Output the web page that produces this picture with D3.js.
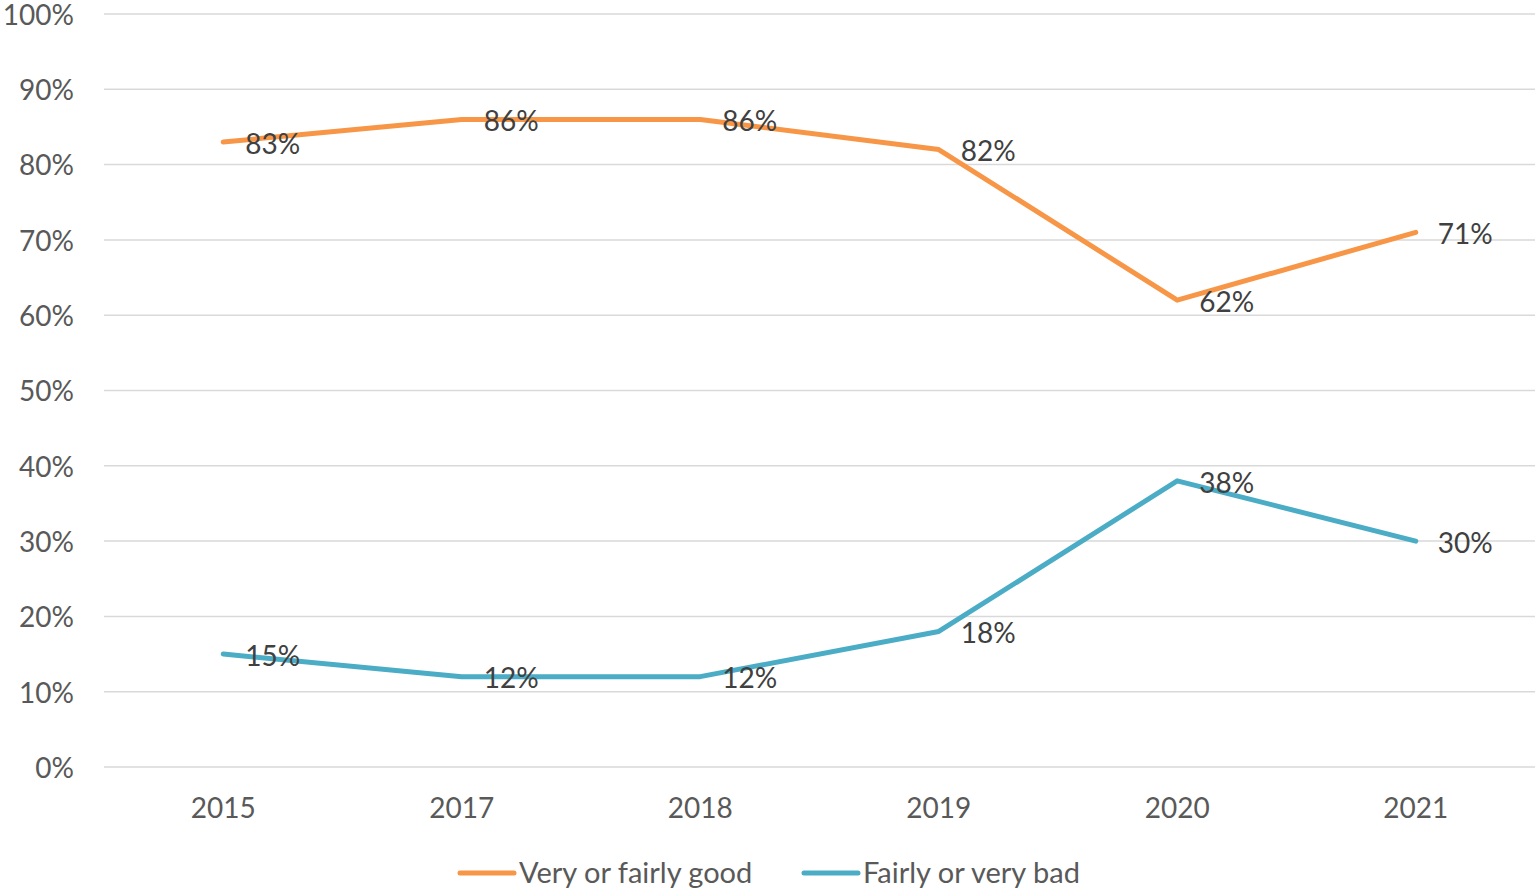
<!DOCTYPE html>
<html>
<head>
<meta charset="utf-8">
<script src="https://cdn.jsdelivr.net/npm/d3@7"></script>
<style>
  body { margin: 0; background: #fff; }
  svg text { font-family: Lato, "Open Sans", sans-serif; }
</style>
</head>
<body>
<svg id="chart"></svg>
<script>
// Data
const years = ["2015", "2017", "2018", "2019", "2020", "2021"];
const good = [83, 86, 86, 82, 62, 71];
const bad = [15, 12, 12, 18, 38, 30];
const yTicks = [0, 10, 20, 30, 40, 50, 60, 70, 80, 90, 100];
const seriesNames = ["Very or fairly good", "Fairly or very bad"];
const seriesColors = ["#F79646", "#4BACC6"];

// Dimensions
const W = 1535, H = 892;
const margin = { top: 14, right: 0, bottom: 125, left: 104 };

const svg = d3.select("#chart")
    .attr("width", W)
    .attr("height", H);

const x = d3.scaleBand().domain(years).range([margin.left, W - margin.right]);
const y = d3.scaleLinear().domain([0, 100]).range([H - margin.bottom, margin.top]);

// Gridlines
svg.append("g")
    .selectAll("line")
    .data(yTicks)
    .join("line")
    .attr("x1", margin.left)
    .attr("x2", W - margin.right)
    .attr("y1", d => y(d))
    .attr("y2", d => y(d))
    .attr("stroke", "#D9D9D9")
    .attr("stroke-width", 1.5);

// Y axis labels
svg.append("g")
    .selectAll("text")
    .data(yTicks)
    .join("text")
    .attr("x", 74)
    .attr("y", d => y(d) + 1)
    .attr("dy", "0.35em")
    .attr("text-anchor", "end")
    .attr("fill", "#595959")
    .style("font-size", "28px")
    .text(d => d + "%");

// X axis labels
svg.append("g")
    .selectAll("text")
    .data(years)
    .join("text")
    .attr("x", d => x(d) + x.bandwidth() / 2)
    .attr("y", 808)
    .attr("dy", "0.35em")
    .attr("text-anchor", "middle")
    .attr("fill", "#595959")
    .style("font-size", "28px")
    .text(d => d);

// Lines + labels
const series = [good, bad];
const line = d3.line()
    .x((d, i) => x(years[i]) + x.bandwidth() / 2)
    .y(d => y(d));

series.forEach((vals, s) => {
    svg.append("path")
        .datum(vals)
        .attr("fill", "none")
        .attr("stroke", seriesColors[s])
        .attr("stroke-width", 5)
        .attr("stroke-linejoin", "round")
        .attr("stroke-linecap", "round")
        .attr("d", line);

    svg.append("g")
        .selectAll("text")
        .data(vals)
        .join("text")
        .attr("x", (d, i) => x(years[i]) + x.bandwidth() / 2 + 22)
        .attr("y", d => y(d) + 2)
        .attr("dy", "0.35em")
        .attr("fill", "#404040")
        .style("font-size", "28px")
        .text(d => d + "%");
});

// Legend
const legendX = [460, 804];
const legend = svg.append("g");
seriesNames.forEach((name, i) => {
    legend.append("line")
        .attr("x1", legendX[i])
        .attr("x2", legendX[i] + 54)
        .attr("y1", 873)
        .attr("y2", 873)
        .attr("stroke", seriesColors[i])
        .attr("stroke-width", 5)
        .attr("stroke-linecap", "round");
    legend.append("text")
        .attr("x", legendX[i] + 59)
        .attr("y", 873)
        .attr("dy", "0.35em")
        .attr("fill", "#595959")
        .style("font-size", "29px")
        .text(name);
});
</script>
</body>
</html>
